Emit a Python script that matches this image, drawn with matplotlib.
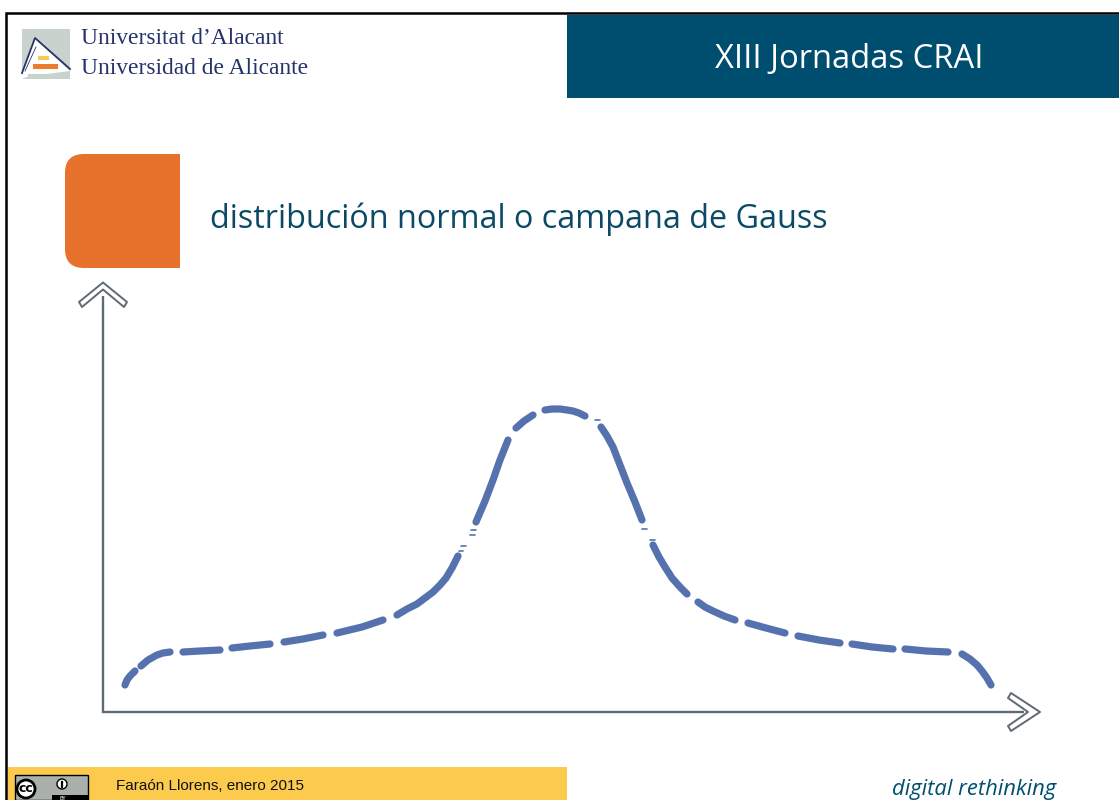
import numpy as np
import matplotlib.pyplot as plt
from matplotlib.patches import Circle, PathPatch, Polygon, Rectangle
from matplotlib.path import Path

# curve, nan marks a gap between dashes
curve_x = [125, 127, 130, 135, np.nan,
           141, 148, 157, 163, 170, np.nan,
           183, 200, 220, np.nan,
           232, 250, 270, np.nan,
           284, 303, 323, np.nan,
           337, 362, 383, np.nan,
           397, 407, 417, 425, 433, 440, 446, 452, 458, np.nan,
           476, 485, 493, 500, 508, np.nan,
           516, 524, 533, np.nan,
           545, 552, 560, 567, 573, 579, 585, np.nan,
           601, 607, 613, 620, 627, 635, 642, np.nan,
           653, 659, 665, 672, 680, 687, np.nan,
           698, 705, 713, 724, 735, np.nan,
           748, 766, 785, np.nan,
           798, 819, 840, np.nan,
           852, 872, 893, np.nan,
           905, 926, 948, np.nan,
           962, 970, 977, 982, 987, 991]
curve_y = [685, 680, 676, 671, np.nan,
           666, 660, 655, 653, 652, np.nan,
           652, 651, 650, np.nan,
           648, 646, 644, np.nan,
           642, 639, 635, np.nan,
           633, 627, 620, np.nan,
           615, 609, 604, 598, 592, 585, 578, 568, 556, np.nan,
           522, 501, 480, 460, 440, np.nan,
           428, 421, 415, np.nan,
           410, 409, 409, 410, 411, 413, 416, np.nan,
           427, 436, 447, 465, 483, 502, 520, np.nan,
           545, 557, 567, 578, 587, 594, np.nan,
           602, 607, 611, 616, 620, np.nan,
           623, 628, 633, np.nan,
           636, 640, 643, np.nan,
           644, 647, 649, np.nan,
           649, 651, 652, np.nan,
           654, 659, 665, 671, 678, 685]

# thin slivers left in the gaps of the steep parts
sliver_x = [459, 463, np.nan, 461, 466, np.nan, 470, 475, np.nan, 471, 476, np.nan,
            595, 600, np.nan, 642, 647, np.nan, 650, 655]
sliver_y = [551, 551, np.nan, 546, 546, np.nan, 535, 535, np.nan, 530, 530, np.nan,
            420, 420, np.nan, 529, 529, np.nan, 540, 540]

title_text = 'XIII Jornadas CRAI'
heading_text = 'distribución normal o campana de Gauss'
logo_lines = ['Universitat d\u2019Alacant', 'Universidad de Alicante']
footer_text = 'Faraón Llorens, enero 2015'
slogan_text = 'digital rethinking'

teal = '#004e6f'
navy = '#26336b'
axis_grey = '#5f6b73'
blue = '#5672ae'

fig = plt.figure(figsize=(11.19, 8), dpi=100)
ax = fig.add_axes([0, 0, 1, 1])
ax.set_xlim(0, 1119)
ax.set_ylim(800, 0)
ax.axis('off')

# slide frame and bands
ax.plot([6, 6, 1119], [800, 13, 13], color='black', lw=1.8, solid_joinstyle='miter')
ax.add_patch(Rectangle((567, 15), 552, 83, color=teal, lw=0))
ax.add_patch(Rectangle((8, 767), 559, 33, color='#fccb4e', lw=0))
ax.text(849, 60, title_text, color='white', fontsize=23.6, family='Open Sans',
        ha='center', va='center')

# logo
ax.add_patch(Rectangle((22, 29), 48, 50, color='#c9d3cd', lw=0))
ax.add_patch(Polygon([(35, 38), (24, 77), (70, 71)], color='white', lw=0))
ax.add_patch(Polygon([(22, 72), (35, 38), (27, 77), (22, 79)], color='white', lw=0))
ax.add_patch(Rectangle((38, 56), 11, 3.5, color='#fbc94f', lw=0))
ax.add_patch(Rectangle((33, 64), 25, 4.5, color='#ee7a2d', lw=0))
ax.add_patch(Rectangle((28, 73.5), 42, 5, color='#c9d3cd', lw=0))
ax.plot([22, 35, 70], [73, 38, 69], color=navy, lw=1.3)
ax.plot([25, 36], [71, 47], color=navy, lw=0.6)
ax.text(81, 39, logo_lines[0], color=navy, fontsize=16.9, family='Liberation Serif',
        va='center')
ax.text(81, 68, logo_lines[1], color=navy, fontsize=16.9, family='Liberation Serif',
        va='center')

# orange box, rounded on the left
r = 19
box = Path([(180, 154), (65 + r, 154), (65, 154), (65, 154 + r), (65, 268 - r),
            (65, 268), (65 + r, 268), (180, 268), (180, 154)],
           [Path.MOVETO, Path.LINETO, Path.CURVE3, Path.CURVE3, Path.LINETO,
            Path.CURVE3, Path.CURVE3, Path.LINETO, Path.CLOSEPOLY])
ax.add_patch(PathPatch(box, facecolor='#e6722b', edgecolor='none'))
ax.text(210, 219, heading_text, color='#0b4a66', fontsize=23.3, family='Open Sans',
        va='center')

# axes of the sketch
ax.plot([103, 103, 1024], [296, 712, 712], color=axis_grey, lw=1.7,
        solid_joinstyle='miter', solid_capstyle='butt')
ax.add_patch(Polygon([(103, 282.5), (127, 302), (124, 307), (103, 289.5), (82, 307), (79, 302)],
                     facecolor='white', edgecolor=axis_grey, lw=1.4, joinstyle='round'))
ax.add_patch(Polygon([(1040, 712), (1011, 693), (1008, 698), (1028, 712), (1008, 726), (1011, 731)],
                     facecolor='white', edgecolor=axis_grey, lw=1.4, joinstyle='round'))

ax.plot(curve_x, curve_y, color=blue, lw=5.2, solid_capstyle='round',
        solid_joinstyle='round')
ax.plot(sliver_x, sliver_y, color=blue, lw=1.2, solid_capstyle='round')

# footer
ax.add_patch(Rectangle((15, 775), 73, 25, facecolor='#aab0aa', edgecolor='black', lw=1))
ax.add_patch(Rectangle((52, 795), 36, 5, color='black', lw=0))
ax.add_patch(Circle((26, 789), 9, facecolor='white', edgecolor='black', lw=2))
ax.text(26, 788.5, 'cc', fontsize=9, fontweight='bold', family='DejaVu Sans',
        ha='center', va='center')
ax.add_patch(Circle((62, 784), 5, facecolor='white', edgecolor='black', lw=1))
ax.plot([62, 62], [781.5, 786.5], color='black', lw=1.6)
ax.text(63, 798, 'BY', color='white', fontsize=4, ha='center', va='center')
ax.text(116, 786, footer_text, color='#111111', fontsize=11,
        family='Liberation Sans', va='center')
ax.text(892, 789, slogan_text, color=teal, fontsize=15.8, family='Open Sans',
        style='italic', va='center')

fig.savefig('out.png', dpi=100)
